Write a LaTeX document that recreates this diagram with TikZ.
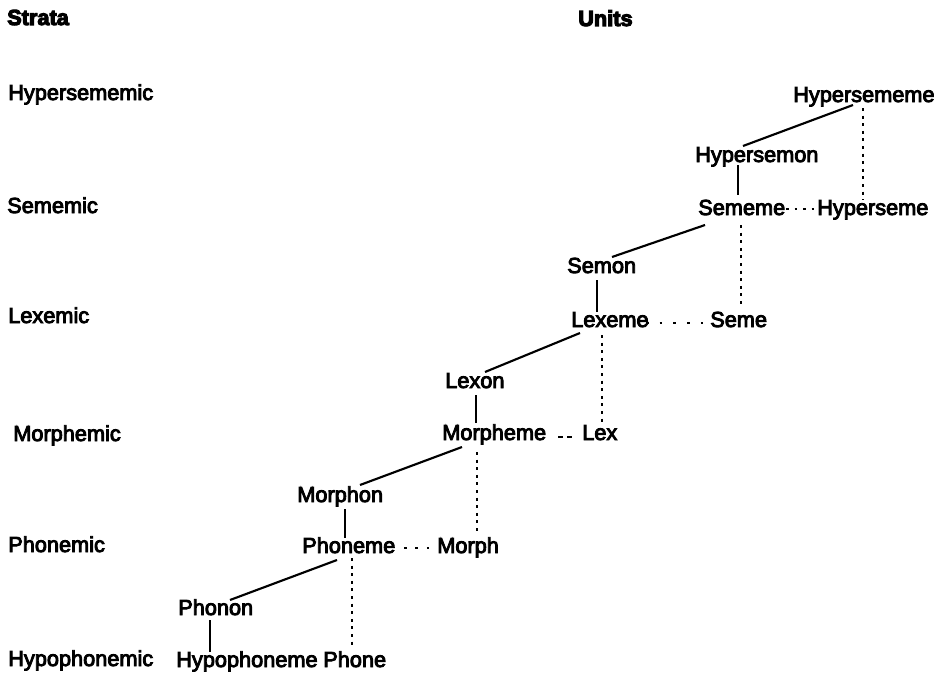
\documentclass[tikz,border=0pt]{standalone}
\usepackage{fontspec}
\newfontfamily\unitfont{Liberation Sans}[FakeBold=4]
\newfontfamily\headfont{Liberation Sans Bold}[FakeBold=5]
\usetikzlibrary{calc}

\tikzset{
  unit/.style={anchor=base west, inner sep=0pt, font=\unitfont\fontsize{16.3}{18}\selectfont},
  head/.style={anchor=base west, inner sep=0pt, font=\headfont\fontsize{16.3}{18}\selectfont},
  link/.style={line width=1.6pt},
  vdots/.style={line width=1.9pt, dash pattern=on 2.2pt off 3.5pt},
  hdots/.style={line width=2pt, dash pattern=on 2pt off #1},
}

\begin{document}
\begin{tikzpicture}[x=0.75pt, y=-0.75pt]
\useasboundingbox[fill=white] (0,0) rectangle (934,674);

% column headings
\node[head] (strata) at (7,25) {Strata};
\node[head] (units) at (578,26) {Units};

% strata
\node[unit] (hsmc) at (8,100) {Hypersememic};
\node[unit] (smc)  at (7,213) {Sememic};
\node[unit] (lxc)  at (8,323) {Lexemic};
\node[unit] (mpc)  at (13,441) {Morphemic};
\node[unit] (phc)  at (8,552) {Phonemic};
\node[unit] (hpc)  at (8,666) {Hypophonemic};

% units
\node[unit] (hsme)  at (793,102) {Hypersememe};
\node[unit] (hsmon) at (695,162) {Hypersemon};
\node[unit] (seme)  at (698,215) {Sememe};
\node[unit] (hsm)   at (817,215) {Hyperseme};
\node[unit] (semon) at (567,273) {Semon};
\node[unit] (lexeme) at (571,327) {Lexeme};
\node[unit] (sm)    at (710,327) {Seme};
\node[unit] (lexon) at (445,388) {Lexon};
\node[unit] (morpheme) at (442,440) {Morpheme};
\node[unit] (lex)   at (582,440) {Lex};
\node[unit] (morphon) at (297,502) {Morphon};
\node[unit] (phoneme) at (302,553) {Phoneme};
\node[unit] (morph) at (437,553) {Morph};
\node[unit] (phonon) at (178,615) {Phonon};
\node[unit] (hypoph) at (176,667) {Hypophoneme};
\node[unit] (phone) at (323,667) {Phone};

% solid links: diagonal and vertical
\draw[link] ($(hsme.base west)+(60,3)$) -- ($(hsmon.base west)+(48,-16)$);
\draw[link] ($(hsmon.base west)+(43,3)$) -- ($(seme.base west)+(40,-20)$);
\draw[link] ($(seme.base west)+(7,10)$) -- ($(semon.base west)+(45,-16)$);
\draw[link] ($(semon.base west)+(30,7)$) -- ($(lexeme.base west)+(26,-15)$);
\draw[link] ($(lexeme.base west)+(9,6)$) -- ($(lexon.base west)+(40,-16)$);
\draw[link] ($(lexon.base west)+(31,7)$) -- ($(morpheme.base west)+(34,-17)$);
\draw[link] ($(morpheme.base west)+(20,7)$) -- ($(morphon.base west)+(63,-17)$);
\draw[link] ($(morphon.base west)+(48,7)$) -- ($(phoneme.base west)+(43,-15)$);
\draw[link] ($(phoneme.base west)+(35,7)$) -- ($(phonon.base west)+(52,-15)$);
\draw[link] ($(phonon.base west)+(32,5)$) -- ($(hypoph.base west)+(34,-15)$);

% dotted vertical links
\draw[vdots] ($(hsme.base west)+(70,6)$) -- ($(hsm.base west)+(46,-15)$);
\draw[vdots] ($(seme.base west)+(43,10)$) -- ($(sm.base west)+(31,-20)$);
\draw[vdots] ($(lexeme.base west)+(31,8)$) -- ($(lex.base west)+(20,-17)$);
\draw[vdots] ($(morpheme.base west)+(35,12)$) -- ($(morph.base west)+(40,-18)$);
\draw[vdots] ($(phoneme.base west)+(50,5)$) -- ($(phone.base west)+(29,-19)$);

% dotted horizontal links
\draw[hdots=4.4pt] ($(seme.base west)+(88,-6)$) -- ($(hsm.base west)+(-3,-6)$);
\draw[hdots=8.3pt] ($(lexeme.base west)+(75,-4)$) -- ($(sm.base west)+(-7,-4)$);
\draw[line width=2pt, dash pattern=on 3.5pt off 3.5pt] ($(morpheme.base west)+(116,-3)$) -- ($(lex.base west)+(-9,-3)$);
\draw[hdots=6.6pt] ($(phoneme.base west)+(102,-5)$) -- ($(morph.base west)+(-8,-5)$);
\end{tikzpicture}
\end{document}
